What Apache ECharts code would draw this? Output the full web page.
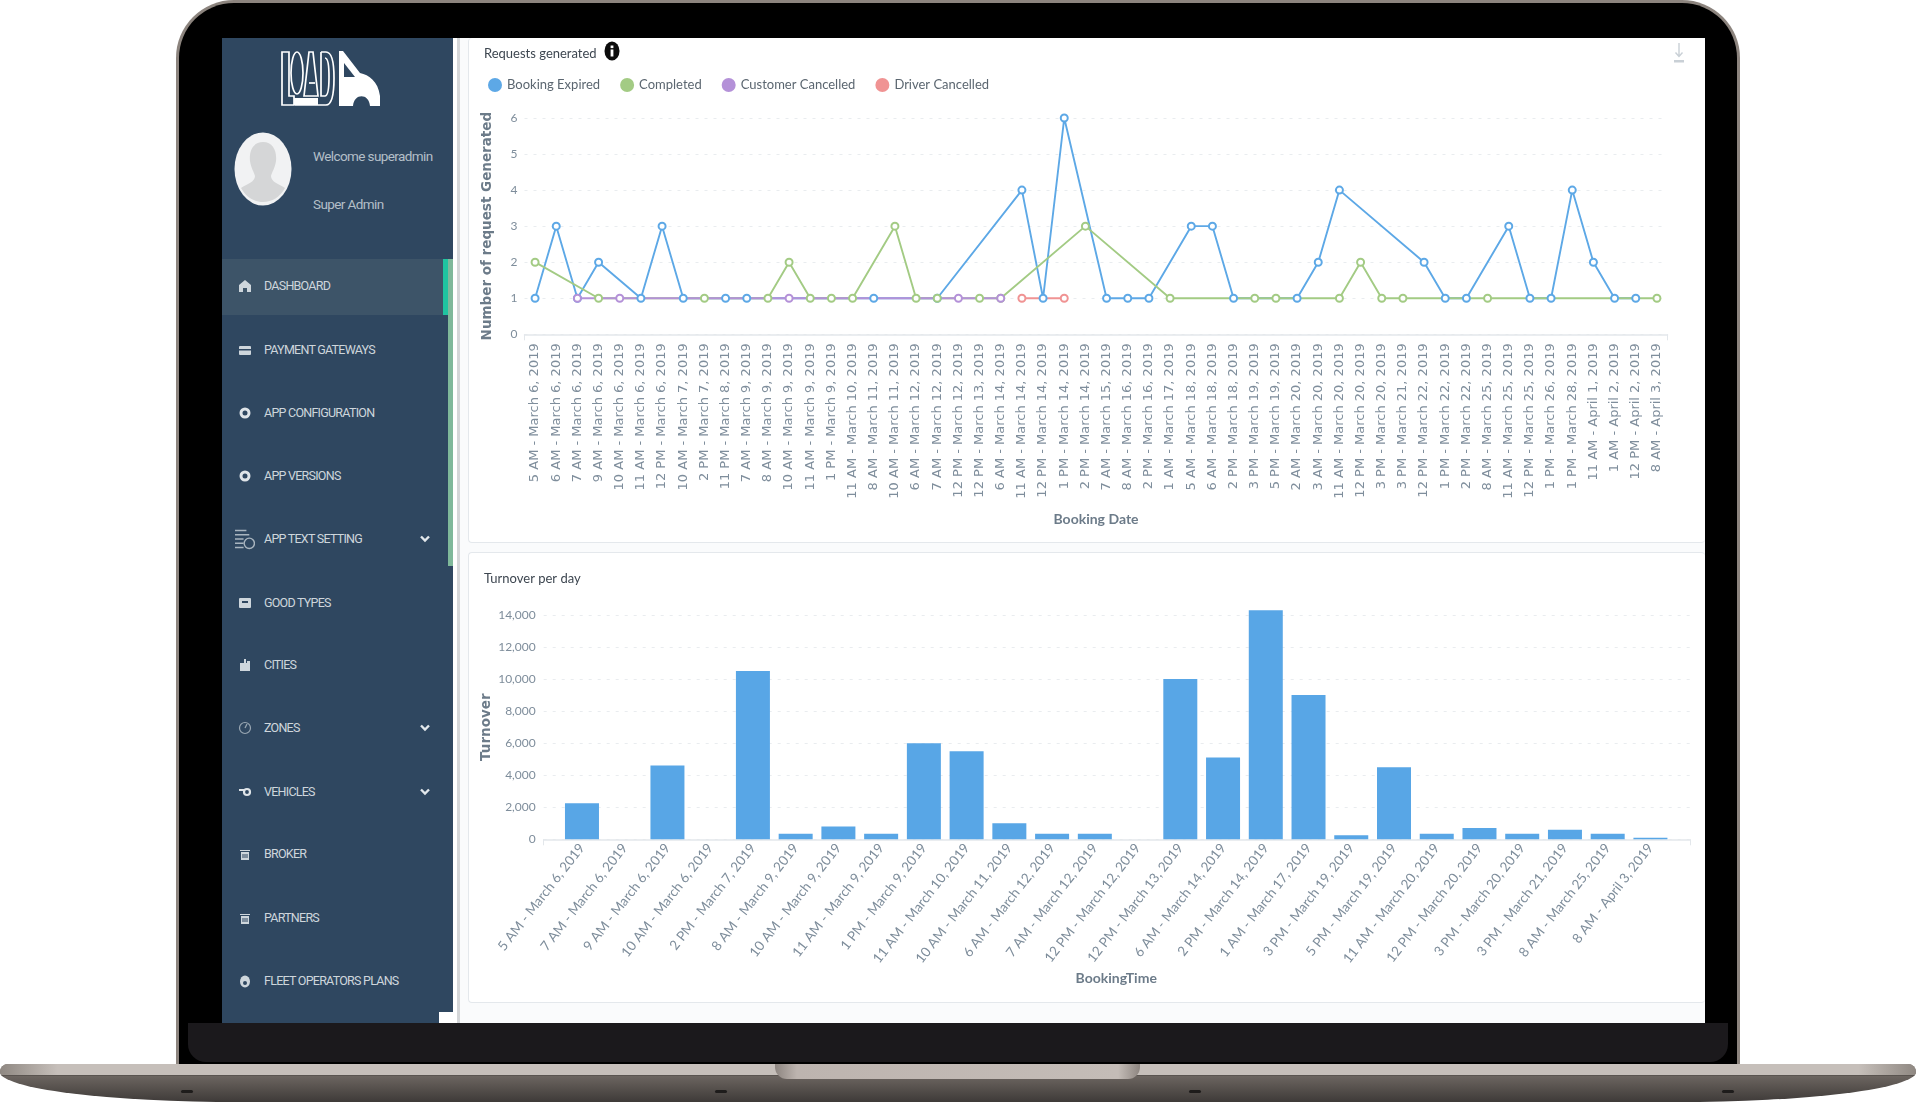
<!DOCTYPE html>
<html>
<head>
<meta charset="utf-8">
<title>Dashboard</title>
<script src="https://cdn.jsdelivr.net/npm/echarts@6/dist/echarts.min.js"></script>
<style>
  html, body { margin: 0; padding: 0; width: 1916px; height: 1102px; background: #fff; overflow: hidden; }
  .abs { position: absolute; }
  #lid { left: 176px; top: 0; width: 1564px; height: 1066px; box-sizing: border-box; background: #000; border: 3px solid #8c847e; border-bottom: 0; border-radius: 58px 58px 0 0; }
  #chin { left: 188px; top: 1023px; width: 1540px; height: 39px; background: #1b191c; border-radius: 0 0 18px 18px; }
  #screen { left: 222px; top: 38px; width: 1483px; height: 985px; background: #fafbfc; }
  #gutter { left: 453px; top: 38px; width: 7px; height: 985px; background: #fff; }
  #gutterline { left: 457px; top: 38px; width: 3px; height: 985px; background: #d4d6d8; }
  .panel { background: #fff; box-sizing: border-box; border: 1px solid #e4e8ec; border-radius: 4px; border-right: 0; }
  #p1 { left: 468px; top: 38px; width: 1237px; height: 505px; border-top: 0; }
  #p2 { left: 468px; top: 552px; width: 1237px; height: 451px; }
  #base { left: 0; top: 1064px; width: 1916px; height: 38px; overflow: hidden; background: linear-gradient(#7d746e 0, #6d6661 30%, #3e3a38 100%); border-radius: 8px 8px 240px 240px / 8px 8px 30px 30px; }
  #rim { left: 0; top: 0; width: 1916px; height: 11px; background: linear-gradient(90deg, #8f8882 0, #c6bfba 3%, #c6bfba 97%, #8f8882 100%); border-bottom: 1px solid #5a5450; }
  #notch { left: 775px; top: 0; width: 365px; height: 15px; background: linear-gradient(90deg, #8d8580 0, #bdb4af 6%, #c4bcb7 94%, #8d8580 100%); border-radius: 0 0 12px 12px; }
  .dot { top: 26px; width: 12px; height: 3px; border-radius: 2px; background: #1e1c1b; }
  #sidebar { left: 222px; top: 38px; width: 231px; height: 985px; background: #2f4760; font-family: Roboto, sans-serif; overflow: hidden; }
  #active { left: 0; top: 221px; width: 221px; height: 56px; background: #3d5468; }
  #teal { left: 221px; top: 221px; width: 5px; height: 56px; background: #1fc4a0; }
  #strip { left: 226px; top: 221px; width: 5px; height: 307px; background: #7fb89a; }
  #corner { left: 439px; top: 1012px; width: 14px; height: 11px; background: #fff; }
  .item { position: absolute; left: 42px; height: 16px; line-height: 16px; font-size: 12.5px; color: #ced6dc; letter-spacing: -0.75px; white-space: nowrap; }
  .ico { position: absolute; left: 16px; width: 14px; height: 14px; }
  .chev { position: absolute; left: 197px; width: 12px; height: 8px; }
  #welcome { left: 91px; top: 110px; font-size: 13.5px; color: #b4bfc8; letter-spacing: -0.6px; white-space: nowrap; }
  #role { left: 91px; top: 158px; font-size: 13.5px; color: #b4bfc8; letter-spacing: -0.6px; white-space: nowrap; }
  #chart { left: 0; top: 0; width: 1916px; height: 1102px; }
</style>
</head>
<body>
<div class="abs" id="lid"></div>
<div class="abs" id="chin"></div>
<div class="abs" id="screen"></div>
<div class="abs" id="gutter"></div>
<div class="abs" id="gutterline"></div>
<div class="abs panel" id="p1"></div>
<div class="abs panel" id="p2"></div>
<div class="abs" id="sidebar">
  <div class="abs" id="active"></div>
  <div class="abs" id="teal"></div>
  <div class="abs" id="strip"></div>
  <svg class="abs" style="left:59px;top:13px" width="100" height="56" viewBox="0 0 100 56">
    <g fill="none" stroke="#fff" stroke-width="1.7">
      <path d="M1 1h7v44h5v9H1z"/>
      <ellipse cx="16" cy="22" rx="6" ry="21"/>
      <path d="M23 45 L28 1 h4 L37 45 Z"/>
      <path d="M28 32h6"/>
      <path d="M40 1h5c6 0 8 10 8 26s-2 27-8 27H14"/>
      <path d="M40 1v44h4c3 0 4-8 4-19s-1-19-4-19"/>
    </g>
    <rect x="13" y="47" width="24" height="7" fill="#fff"/>
    <path d="M58 0 H62 L79 22 C88 24 97 30 99 45 V55 H89 C88 42 73 42 72 55 H58 Z" fill="#fff"/>
    <path d="M63 12 L74 26 H63 Z" fill="#2f4760"/>
  </svg>
  <svg class="abs" style="left:12px;top:94px" width="58" height="74" viewBox="0 0 58 74">
    <ellipse cx="29" cy="37" rx="28.5" ry="36.5" fill="#f1f2f3"/>
    <path d="M29 10c10 0 14 9 13 19-1 7-4 11-5 15 0 6 8 8 14 12-5 9-13 14-22 14S12 65 7 56c6-4 14-6 14-12-1-4-4-8-5-15C15 19 19 10 29 10z" fill="#d5d6d7"/>
  </svg>
  <div class="abs" id="welcome">Welcome superadmin</div>
  <div class="abs" id="role">Super Admin</div>
  <div id="menu"></div>
</div>
<div class="abs" id="base">
  <div class="abs" id="rim"></div>
  <div class="abs" id="notch"></div>
  <div class="abs dot" style="left:181px"></div>
  <div class="abs dot" style="left:715px"></div>
  <div class="abs dot" style="left:1189px"></div>
  <div class="abs dot" style="left:1722px"></div>
</div>
<div class="abs" id="corner"></div>
<svg class="abs" style="left:604px;top:41px" width="16" height="20" viewBox="0 0 16 20">
  <ellipse cx="8" cy="10" rx="7.5" ry="9.5" fill="#0c0c0c"/>
  <rect x="6.6" y="8.5" width="2.8" height="7" fill="#fff"/>
  <rect x="6.6" y="4.5" width="2.8" height="2.6" fill="#fff"/>
</svg>
<svg class="abs" style="left:1673px;top:42px" width="12" height="22" viewBox="0 0 12 22">
  <path d="M6 1v13M2.5 10.5 6 14.5l3.5-4" fill="none" stroke="#c9d0d6" stroke-width="1.4"/>
  <rect x="1" y="18" width="10" height="2.5" fill="#c9d0d6"/>
</svg>
<div class="abs" id="chart"></div>
<script>
// sidebar menu
var menuLabels = ['DASHBOARD', 'PAYMENT GATEWAYS', 'APP CONFIGURATION', 'APP VERSIONS', 'APP TEXT SETTING', 'GOOD TYPES', 'CITIES', 'ZONES', 'VEHICLES', 'BROKER', 'PARTNERS', 'FLEET OPERATORS PLANS'];
var menuTops = [286, 349.5, 413, 475.5, 539, 602.5, 665, 728, 792, 854, 918, 981];
var menuChevrons = ['APP TEXT SETTING', 'ZONES', 'VEHICLES'];
var menuIcons = [
  '<path d="M7 1 13 6v7H9V9H5v4H1V6z" fill="#ced6dc"/>',
  '<rect x="1" y="3" width="12" height="9" rx="1" fill="#ced6dc"/><rect x="1" y="6" width="12" height="1.5" fill="#2f4760"/>',
  '<circle cx="7" cy="7" r="4" fill="none" stroke="#dfe4e8" stroke-width="3"/>',
  '<circle cx="7" cy="7" r="4" fill="none" stroke="#dfe4e8" stroke-width="3"/>',
  '<path d="M0 1h8M0 4h10M0 7h6M0 10h6M0 13h6" stroke="#a9b5bf" stroke-width="1"/><circle cx="10" cy="10" r="3.6" fill="none" stroke="#a9b5bf" stroke-width="1"/>',
  '<rect x="1" y="2" width="12" height="10" rx="1" fill="#ced6dc"/><rect x="4" y="5" width="6" height="2" fill="#2f4760"/>',
  '<path d="M2 13V5h4V1h2v4h1V3h3v10z" fill="#ced6dc"/>',
  '<circle cx="7" cy="7" r="5.5" fill="none" stroke="#9aa8b3" stroke-width="1.2"/><path d="M7 7 9 3" stroke="#9aa8b3" stroke-width="1.2"/>',
  '<path d="M1 4h5v2H1z" fill="#dfe4e8"/><circle cx="9" cy="7" r="3" fill="none" stroke="#dfe4e8" stroke-width="2.2"/>',
  '<path d="M2 3h10v1H2zM3 5h8v8H3z" fill="#ced6dc"/><path d="M5 7v4M7 7v4M9 7v4" stroke="#2f4760"/>',
  '<path d="M2 3h10v1H2zM3 5h8v8H3z" fill="#ced6dc"/><path d="M5 7v4M7 7v4M9 7v4" stroke="#2f4760"/>',
  '<ellipse cx="7" cy="7.5" rx="5" ry="6" fill="#ced6dc"/><circle cx="7" cy="9" r="2" fill="#2f4760"/>'
];
var menuHtml = '';
menuLabels.forEach(function (label, i) {
  var y = menuTops[i] - 38;
  var big = label === 'APP TEXT SETTING';
  menuHtml += '<svg class="ico" style="top:' + (y - (big ? 11 : 7)) + 'px;' + (big ? 'left:13px;width:20px;height:22px' : '') + '" viewBox="0 0 14 14">' + menuIcons[i] + '</svg>';
  menuHtml += '<div class="item" style="top:' + (y - 8) + 'px">' + label + '</div>';
  if (menuChevrons.indexOf(label) >= 0) {
    menuHtml += '<svg class="chev" style="top:' + (y - 4) + 'px" viewBox="0 0 12 8"><path d="M2 1.5 6 5.5l4-4" fill="none" stroke="#e3e8ec" stroke-width="2.4"/></svg>';
  }
});
document.getElementById('menu').innerHTML = menuHtml;

// requests chart
var requestDates = [
  '5 AM - March 6, 2019', '6 AM - March 6, 2019', '7 AM - March 6, 2019', '9 AM - March 6, 2019', '10 AM - March 6, 2019', '11 AM - March 6, 2019',
  '12 PM - March 6, 2019', '10 AM - March 7, 2019', '2 PM - March 7, 2019', '11 PM - March 8, 2019', '7 AM - March 9, 2019', '8 AM - March 9, 2019',
  '10 AM - March 9, 2019', '11 AM - March 9, 2019', '1 PM - March 9, 2019', '11 AM - March 10, 2019', '8 AM - March 11, 2019', '10 AM - March 11, 2019',
  '6 AM - March 12, 2019', '7 AM - March 12, 2019', '12 PM - March 12, 2019', '12 PM - March 13, 2019', '6 AM - March 14, 2019', '11 AM - March 14, 2019',
  '12 PM - March 14, 2019', '1 PM - March 14, 2019', '2 PM - March 14, 2019', '7 AM - March 15, 2019', '8 AM - March 16, 2019', '2 PM - March 16, 2019',
  '1 AM - March 17, 2019', '5 AM - March 18, 2019', '6 AM - March 18, 2019', '2 PM - March 18, 2019', '3 PM - March 19, 2019', '5 PM - March 19, 2019',
  '2 AM - March 20, 2019', '3 AM - March 20, 2019', '11 AM - March 20, 2019', '12 PM - March 20, 2019', '3 PM - March 20, 2019', '3 PM - March 21, 2019',
  '12 PM - March 22, 2019', '1 PM - March 22, 2019', '2 PM - March 22, 2019', '8 AM - March 25, 2019', '11 AM - March 25, 2019', '12 PM - March 25, 2019',
  '1 PM - March 26, 2019', '1 PM - March 28, 2019', '11 AM - April 1, 2019', '1 AM - April 2, 2019', '12 PM - April 2, 2019', '8 AM - April 3, 2019'
];
var _ = null;
var bookingExpired = [1, 3, 1, 2, _, 1, 3, 1, _, 1, 1, _, _, _, _, _, 1, _, _, 1, _, _, _, 4, 1, 6, _, 1, 1, 1, _, 3, 3, 1, _, _, 1, 2, 4, _, _, _, 2, 1, 1, _, 3, 1, 1, 4, 2, 1, 1, _];
var completed = [2, _, _, 1, _, _, _, _, 1, _, _, 1, 2, 1, 1, 1, _, 3, 1, 1, _, 1, 1, _, _, _, 3, _, _, _, 1, _, _, _, 1, 1, _, _, 1, 2, 1, 1, _, _, _, 1, _, _, _, _, _, _, _, 1];
var customerCancelled = [_, _, 1, _, 1, _, _, _, _, _, _, _, 1, _, _, _, _, _, _, _, 1, _, 1, _, _, _, _, _, _, _, _, _, _, _, _, _, _, _, _, _, _, _, _, _, _, _, _, _, _, _, _, _, _, _];
var driverCancelled = [_, _, _, _, _, _, _, _, _, _, _, _, _, _, _, _, _, _, _, _, _, _, _, 1, _, 1, _, _, _, _, _, _, _, _, _, _, _, _, _, _, _, _, _, _, _, _, _, _, _, _, _, _, _, _];

// turnover chart
var turnoverDates = [
  '5 AM - March 6, 2019', '7 AM - March 6, 2019', '9 AM - March 6, 2019', '10 AM - March 6, 2019', '2 PM - March 7, 2019', '8 AM - March 9, 2019',
  '10 AM - March 9, 2019', '11 AM - March 9, 2019', '1 PM - March 9, 2019', '11 AM - March 10, 2019', '10 AM - March 11, 2019', '6 AM - March 12, 2019',
  '7 AM - March 12, 2019', '12 PM - March 12, 2019', '12 PM - March 13, 2019', '6 AM - March 14, 2019', '2 PM - March 14, 2019', '1 AM - March 17, 2019',
  '3 PM - March 19, 2019', '5 PM - March 19, 2019', '11 AM - March 20, 2019', '12 PM - March 20, 2019', '3 PM - March 20, 2019', '3 PM - March 21, 2019',
  '8 AM - March 25, 2019', '8 AM - April 3, 2019'
];
var turnover = [2250, 0, 4600, 0, 10500, 350, 800, 350, 6000, 5500, 1000, 350, 350, 0, 10000, 5100, 14300, 9000, 250, 4500, 350, 700, 350, 600, 350, 100];

var lato = 'Lato, sans-serif';
var dejavu = '"DejaVu Sans", sans-serif';
var axisColor = '#e3e7eb';
var splitStyle = { color: '#e9ecef', type: [3, 6], width: 1 };
var tickText = { color: '#7e8d9b', fontFamily: lato, fontSize: 12 };
var seriesColors = ['#5da8e6', '#a3cb84', '#b491d8', '#f09393'];

function lineSeries (name, data, color) {
  return {
    name: name,
    type: 'line',
    xAxisIndex: 0,
    yAxisIndex: 0,
    data: data,
    connectNulls: true,
    symbol: 'circle',
    symbolSize: 7,
    showSymbol: true,
    showAllSymbol: true,
    lineStyle: { color: color, width: 1.9 },
    itemStyle: { color: '#fff', borderColor: color, borderWidth: 2 }
  };
}

var chart = echarts.init(document.getElementById('chart'), null, { renderer: 'canvas' });
chart.setOption({
  animation: false,
  backgroundColor: 'transparent',
  title: [
    { text: 'Requests generated', left: 479, top: 42, textStyle: { fontFamily: lato, fontSize: 13, fontWeight: 'normal', color: '#3d4650' } },
    { text: 'Turnover per day', left: 479, top: 567, textStyle: { fontFamily: lato, fontSize: 13, fontWeight: 'normal', color: '#3d4650' } }
  ],
  legend: {
    left: 483,
    top: 73,
    icon: 'circle',
    itemWidth: 14,
    itemHeight: 14,
    itemGap: 20,
    textStyle: { fontFamily: lato, fontSize: 13, color: '#5b6670' },
    data: ['Booking Expired', 'Completed', 'Customer Cancelled', 'Driver Cancelled'].map(function (name, i) {
      return { name: name, itemStyle: { color: seriesColors[i], borderWidth: 0 } };
    })
  },
  grid: [
    { left: 524.5, top: 118, width: 1143, height: 216.3, containLabel: false },
    { left: 560.6, top: 615, width: 1111.2, height: 224.3, containLabel: false },
    { left: 543.7, top: 615, width: 1146.3, height: 224.3, containLabel: false }
  ],
  xAxis: [
    {
      gridIndex: 0,
      type: 'category',
      data: requestDates,
      name: 'Booking Date',
      nameLocation: 'middle',
      nameGap: 178,
      nameTextStyle: { fontFamily: lato, fontSize: 14, color: '#6c7b89', fontWeight: 'bold' },
      axisLine: { lineStyle: { color: axisColor, width: 1.5 } },
      axisTick: { show: true, length: 6, lineStyle: { color: axisColor }, interval: function (i) { return i === 0 || i === 54; } },
      axisLabel: { interval: 0, rotate: 90, margin: 9, fontFamily: dejavu, fontSize: 13, color: '#7f8e9c' }
    },
    {
      gridIndex: 1,
      type: 'category',
      data: turnoverDates,
      name: 'BookingTime',
      nameLocation: 'middle',
      nameMoveOverlap: false,
      nameGap: 132,
      nameTextStyle: { fontFamily: lato, fontSize: 14, color: '#6c7b89', fontWeight: 'bold' },
      axisLine: { show: false },
      axisTick: { show: false },
      axisLabel: { interval: 0, rotate: 52, margin: 6, fontFamily: lato, fontSize: 13.5, color: '#7e8d9b' }
    },
    {
      gridIndex: 2,
      type: 'value',
      min: 0,
      max: 1,
      interval: 1,
      axisLine: { show: true, onZero: false, lineStyle: { color: axisColor, width: 1.5 } },
      axisTick: { show: true, length: 6, lineStyle: { color: axisColor } },
      axisLabel: { show: false },
      splitLine: { show: false }
    }
  ],
  yAxis: [
    {
      gridIndex: 0,
      type: 'value',
      min: 0,
      max: 6,
      interval: 1,
      name: 'Number of request Generated',
      nameLocation: 'middle',
      nameGap: 30,
      nameTextStyle: { fontFamily: dejavu, fontWeight: 'bold', fontSize: 13.5, color: '#6c7b89' },
      axisLine: { show: false },
      axisTick: { show: false },
      axisLabel: Object.assign({ margin: 7 }, tickText),
      splitLine: { lineStyle: splitStyle }
    },
    {
      gridIndex: 1,
      type: 'value',
      min: 0,
      max: 14000,
      interval: 2000,
      show: false
    },
    {
      gridIndex: 2,
      type: 'value',
      min: 0,
      max: 14000,
      interval: 2000,
      name: 'Turnover',
      nameLocation: 'middle',
      nameMoveOverlap: false,
      nameGap: 50,
      nameTextStyle: { fontFamily: dejavu, fontWeight: 'bold', fontSize: 13.5, color: '#6c7b89' },
      axisLine: { show: false },
      axisTick: { show: false },
      axisLabel: Object.assign({ margin: 8, formatter: function (v) { return v.toLocaleString('en-US'); } }, tickText),
      splitLine: { lineStyle: splitStyle }
    }
  ],
  series: [
    lineSeries('Booking Expired', bookingExpired, seriesColors[0]),
    lineSeries('Completed', completed, seriesColors[1]),
    lineSeries('Customer Cancelled', customerCancelled, seriesColors[2]),
    lineSeries('Driver Cancelled', driverCancelled, seriesColors[3]),
    {
      name: 'Turnover',
      type: 'bar',
      xAxisIndex: 1,
      yAxisIndex: 1,
      data: turnover,
      barWidth: 34,
      clip: false,
      itemStyle: { color: '#58a6e6' }
    }
  ]
});
</script>
</body>
</html>
